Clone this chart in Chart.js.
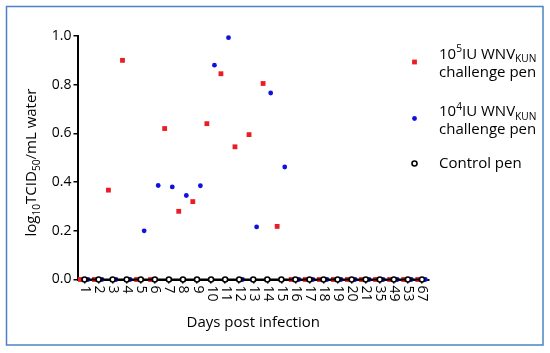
<!DOCTYPE html>
<html><head><meta charset="utf-8">
<script src="https://cdn.jsdelivr.net/npm/chart.js@4/dist/chart.umd.min.js"></script>
<style>html,body{margin:0;padding:0;background:#fff;}#wrap{width:550px;height:353px;}</style>
</head><body><div id="wrap"><canvas id="c" width="550" height="353"></canvas></div>
<script>
// ---- data ----
const days = ['1','2','3','4','5','6','7','8','9','10','11','12','13','14','15','16','17','18','19','20','21','35','49','53','67'];
const pen10e5 = [0,0,0.367,0.90,0,0,0.62,0.28,0.32,0.64,0.845,0.545,0.595,0.805,0.218,0,0,0,0,0,0,0,0,0,0];
const pen10e4 = [0,0,0,0,0.20,0.386,0.38,0.345,0.385,0.88,0.993,0,0.216,0.766,0.462,0,0,0,0,0,0,0,0,0,0];
const controlPen = [0,0,0,0,0,0,0,0,0,0,0,0,0,0,0,0,0,0,0,0,0,0,0,0,0];
const yTicks = [0,0.2,0.4,0.6,0.8,1.0];
const xTitle = 'Days post infection';
// rich text parts: 0 normal, 1 subscript, 2 superscript
const yTitleParts = [['log',0],['10',1],['TCID',0],['50',1],['/mL water',0]];
const legendLabels = [
  [[['10',0],['5',2],['IU WNV',0],['KUN',1]], [['challenge pen',0]]],
  [[['10',0],['4',2],['IU WNV',0],['KUN',1]], [['challenge pen',0]]],
  [[['Control pen',0]]]
];

// ---- style ----
const FONT = "'Open Sans', sans-serif";
const RED = '#ec1c24', BLUE = '#1010e0', BLACK = '#000000';
const OFF_RED = -0.30, OFF_BLUE = 0.24;

function pts(arr, off){ return arr.map((v,i)=>({x:i+1+off, y:v})); }

function drawRich(ctx, x, y, parts, size, align){
  const sizes = parts.map(p => p[1] ? size*0.68 : size);
  let total = 0;
  parts.forEach((p,i)=>{ ctx.font = sizes[i]+'px '+FONT; total += ctx.measureText(p[0]).width; });
  let cx = align==='center' ? x - total/2 : x;
  ctx.textAlign='left'; ctx.textBaseline='alphabetic';
  parts.forEach((p,i)=>{
    ctx.font = sizes[i]+'px '+FONT;
    const dy = p[1]===1 ? size*0.25 : (p[1]===2 ? -size*0.42 : 0);
    ctx.fillText(p[0], cx, y+dy);
    cx += ctx.measureText(p[0]).width;
  });
}

const decor = {
  id:'decor',
  beforeDraw(chart){
    const ctx = chart.ctx; ctx.save();
    ctx.fillStyle='#fff'; ctx.fillRect(0,0,chart.width,chart.height);
    ctx.strokeStyle='#4a84c4'; ctx.lineWidth=1.5; ctx.strokeRect(6.5,6.5,536.5,338.5);
    ctx.restore();
  },
  afterDraw(chart){
    const ctx = chart.ctx, xs = chart.scales.x, area = chart.chartArea;
    ctx.save(); ctx.fillStyle = BLACK;
    // x tick labels, rotated clockwise
    ctx.font = '14px '+FONT; ctx.textAlign='left'; ctx.textBaseline='middle';
    days.forEach((d,i)=>{
      const px = xs.getPixelForValue(i+1);
      ctx.save(); ctx.translate(px+0.5, area.bottom+6); ctx.rotate(Math.PI/2); ctx.fillText(d,0,0); ctx.restore();
    });
    // x title
    ctx.font = '15px '+FONT; ctx.textAlign='center'; ctx.textBaseline='alphabetic';
    ctx.fillText(xTitle, (area.left+area.right)/2, 327);
    // y title
    ctx.save(); ctx.translate(36, 162.5); ctx.rotate(-Math.PI/2);
    drawRich(ctx, 0, 0, yTitleParts, 15, 'center'); ctx.restore();
    // legend
    const markers = [
      {y:62, base:[58.5,76.5], draw:(x,y)=>{ctx.fillStyle=RED; ctx.fillRect(x-2.4,y-2.4,4.8,4.8);}},
      {y:118.5, base:[116,134], draw:(x,y)=>{ctx.fillStyle=BLUE; ctx.beginPath(); ctx.arc(x,y,2.4,0,Math.PI*2); ctx.fill();}},
      {y:163.5, base:[168], draw:(x,y)=>{ctx.fillStyle='#fff'; ctx.strokeStyle=BLACK; ctx.lineWidth=1.6; ctx.beginPath(); ctx.arc(x,y,2.5,0,Math.PI*2); ctx.fill(); ctx.stroke();}}
    ];
    markers.forEach((m,k)=>{
      m.draw(414.5, m.y);
      ctx.fillStyle = BLACK;
      legendLabels[k].forEach((line,j)=> drawRich(ctx, 439, m.base[j], line, 15, 'left'));
    });
    ctx.restore();
  }
};

new Chart(document.getElementById('c'), {
  type:'scatter',
  data:{ datasets:[
    {label:'control', data:pts(controlPen,0), order:0, showLine:true, borderColor:BLACK, borderWidth:2,
     pointStyle:'circle', pointRadius:2.5, pointBorderWidth:1.6, pointBackgroundColor:'#fff', pointBorderColor:BLACK, clip:false},
    {label:'10e5', data:pts(pen10e5,OFF_RED), order:1, pointStyle:'rect', pointRadius:3.4, pointBorderWidth:0,
     backgroundColor:RED, borderColor:RED, clip:false},
    {label:'10e4', data:pts(pen10e4,OFF_BLUE), order:2, pointStyle:'circle', pointRadius:2.4, pointBorderWidth:0,
     backgroundColor:BLUE, borderColor:BLUE, clip:false}
  ]},
  options:{
    responsive:false, animation:false, devicePixelRatio:1,
    layout:{padding:{left:0, top:36, right:121, bottom:0}},
    plugins:{legend:{display:false}, tooltip:{enabled:false}},
    scales:{
      x:{type:'linear', min:0.5, max:25.5,
        afterBuildTicks:s=>{ s.ticks = days.map((d,i)=>({value:i+1})); },
        afterFit:s=>{ s.height = 73.5; },
        ticks:{display:false},
        grid:{display:true, drawOnChartArea:false, drawTicks:true, tickLength:4, color:BLACK, lineWidth:1.5},
        border:{display:true, color:BLACK, width:2}},
      y:{min:0, max:1,
        afterBuildTicks:s=>{ s.ticks = yTicks.map(v=>({value:v})); },
        afterFit:s=>{ s.width = 77.5; },
        ticks:{callback:v=>Number(v).toFixed(1), color:BLACK, font:{family:FONT, size:14}, padding:2},
        grid:{display:true, drawOnChartArea:false, drawTicks:true, tickLength:4, color:BLACK, lineWidth:1.5},
        border:{display:true, color:BLACK, width:2}}
    }
  },
  plugins:[decor]
});
</script>
</body></html>
